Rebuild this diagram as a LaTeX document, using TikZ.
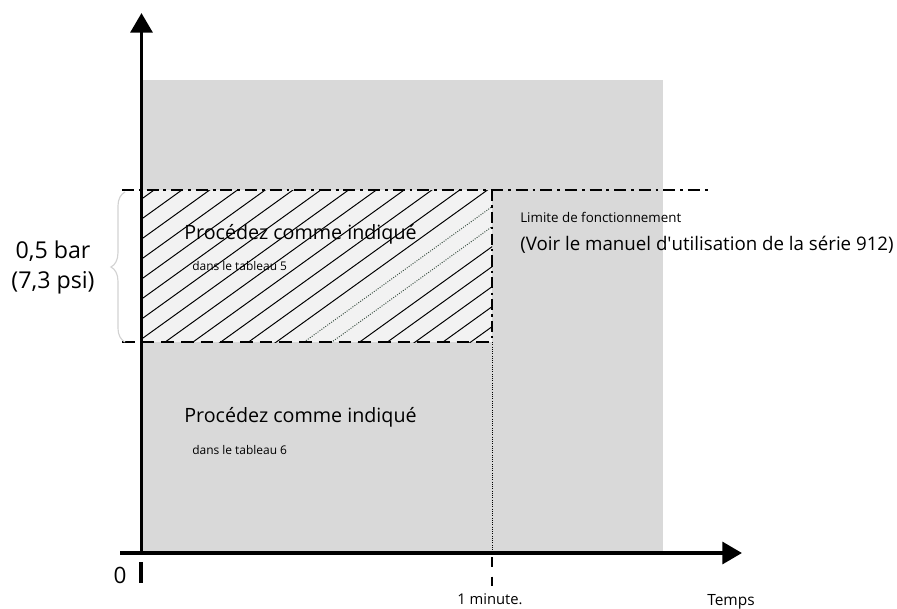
\documentclass[tikz,border=0pt]{standalone}
\usepackage{fontspec}
\setmainfont{Open Sans}
\usetikzlibrary{arrows.meta,decorations.pathreplacing}
\definecolor{zonegray}{HTML}{D9D9D9}
\definecolor{hatchfill}{HTML}{F2F2F2}
\definecolor{bracegray}{HTML}{D2D2D2}
\definecolor{dotgreen}{HTML}{3E5346}

\begin{document}
\begin{tikzpicture}[x=0.025cm,y=-0.025cm,
    axisline/.style={line width=2.8pt},
    limitline/.style={line width=1.6pt},
    hatchline/.style={line width=0.7pt},
    txt/.style={inner sep=0pt,anchor=base west}]

  \useasboundingbox (0,0) rectangle (897,608);

  % ---- Zones ----------------------------------------------
  % Operating zone
  \fill[zonegray] (143,80) rectangle (663,553);
  % Hatched zone (table 5)
  \fill[hatchfill] (143,190) rectangle (492,342);
  \begin{scope}
    \clip (143,190) rectangle (492,342);
    \foreach \k in {0,...,12,15,16,...,19}
      \draw[hatchline] (143,198+20*\k) -- ++(500,-360);
    \foreach \k in {13,14}
      \draw[hatchline,dotgreen,densely dotted] (143,198+20*\k) -- ++(500,-360);
  \end{scope}

  % ---- Limit lines ----------------------------------------
  \draw[limitline,dash pattern=on 8.5pt off 3.5pt on 2pt off 3.5pt] (122,190) -- (708,190);
  \draw[limitline,dash pattern=on 9pt off 5pt] (122,342) -- (492,342);
  \draw[limitline,dash pattern=on 8pt off 3pt on 1.5pt off 3pt] (492,190) -- (492,342);
  \draw[line width=0.6pt,densely dotted] (492,342) -- (492,553);
  \draw[limitline,dash pattern=on 7pt off 7pt] (492,557) -- (492,586);

  % ---- Axes -----------------------------------------------
  \draw[axisline,-{Triangle[length=14pt,width=15.5pt]}] (141.5,553) -- (141.5,13);
  \draw[axisline,-{Triangle[length=14pt,width=15.5pt]}] (120,553) -- (742,553);
  \draw[axisline] (141,562) -- (141,583);

  % Brace for the 0,5 bar band
  \draw[bracegray,line width=0.8pt,decorate,decoration={brace,amplitude=10pt}]
    (125,342) -- (125,192);

  % ---- Labels ---------------------------------------------
  \node[inner sep=0pt,anchor=base,font=\fontsize{16.5}{18}\selectfont] (barlabel) at (53,258) {0,5 bar};
  \node[inner sep=0pt,anchor=base,font=\fontsize{16.5}{18}\selectfont] (psilabel) at (53,288) {(7,3 psi)};

  \node[txt,font=\fontsize{14}{16}\selectfont] (boxtitle) at (184,239) {Procédez comme indiqué};
  \node[txt,font=\fontsize{8.5}{10}\selectfont] (boxnote) at (192,270) {dans le tableau 5};

  \node[txt,font=\fontsize{14}{16}\selectfont] (basetitle) at (184,422) {Procédez comme indiqué};
  \node[txt,font=\fontsize{8.5}{10}\selectfont] (basenote) at (192,454) {dans le tableau 6};

  \node[txt,font=\fontsize{9.5}{11}\selectfont] (limitnote) at (520,222) {Limite de fonctionnement};
  \node[txt,font=\fontsize{13.3}{16}\selectfont] (limittitle) at (520,250) {(Voir le manuel d\textquotesingle utilisation de la série 912)};

  \node[inner sep=0pt,anchor=base,font=\fontsize{16}{18}\selectfont] (origin) at (120,583) {0};
  \node[inner sep=0pt,anchor=base,font=\fontsize{10.5}{12}\selectfont] (minlabel) at (490,604) {1 minute.};
  \node[inner sep=0pt,anchor=base,font=\fontsize{11}{13}\selectfont] (timelabel) at (731,605) {Temps};

\end{tikzpicture}
\end{document}
